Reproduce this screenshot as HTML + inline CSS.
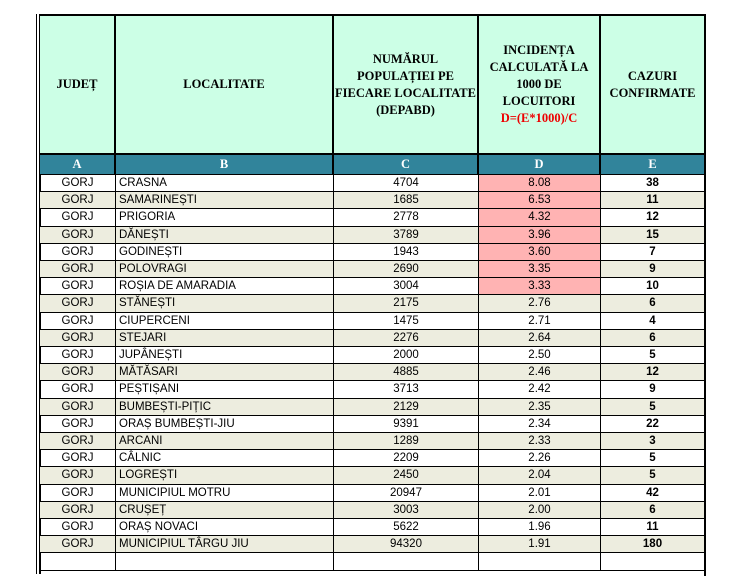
<!DOCTYPE html>
<html><head><meta charset="utf-8"><style>
body{margin:0;width:739px;height:558px;background:#fff;position:relative;overflow:hidden;font-family:"Liberation Sans",sans-serif}
#t{position:absolute;left:40px;top:14px;width:664px;height:560px;border-top:2px solid #000;border-right:2px solid #000;}
#outer{position:absolute;left:36px;top:14px;width:1px;height:560px;background:#000}
#outer2{position:absolute;left:39px;top:14px;width:2px;height:560px;background:#000}
.r{position:absolute;left:0;width:664px;display:flex;box-sizing:border-box;border-bottom:1.5px solid #000}
.c{box-sizing:border-box;border-right:1.5px solid #000;height:100%;display:flex;align-items:center;justify-content:center;font-size:11.5px;color:#000}
.c:last-child{border-right:none}
.w0{width:76px}.w1{width:218px;justify-content:flex-start;padding-left:3px}.w2{width:145px}.w3{width:122px}.w4{width:103px;font-weight:bold}
.h .c{background:#ccffe6;font-family:"Liberation Serif",serif;font-weight:bold;font-size:12.5px;text-align:center;line-height:17px;border-right:2px solid #000;justify-content:center;padding:0}
.h .c:last-child{border-right:none}
.b .c{background:#31849b;color:#fff;font-family:"Liberation Serif",serif;font-weight:bold;font-size:12.5px;justify-content:center;padding:0;border-right:2px solid #000}
.b .c:last-child{border-right:none}
.e{background:#ededdf}
.p{background:#ffb3b3}
</style></head><body>
<div id="outer"></div><div id="outer2"></div>
<div id="t">
<div class="r h" style="top:0;height:139px;border-bottom:2px solid #000">
<div class="c w0"><div>JUDEȚ</div></div><div class="c w1"><div>LOCALITATE</div></div><div class="c w2"><div>NUMĂRUL<br>POPULAȚIEI PE<br>FIECARE LOCALITATE<br>(DEPABD)</div></div><div class="c w3"><div>INCIDENȚA<br>CALCULATĂ LA<br>1000 DE<br>LOCUITORI<br><span style="color:#e00">D=(E*1000)/C</span></div></div><div class="c w4"><div>CAZURI<br>CONFIRMATE</div></div>
</div>
<div class="r b" style="top:139px;height:20px;border-bottom:1.5px solid #000">
<div class="c w0">A</div><div class="c w1">B</div><div class="c w2">C</div><div class="c w3">D</div><div class="c w4">E</div>
</div>
<div id="rows"></div>
</div>
<script>
var d=[["CRASNA",4704,"8.08",38],["SAMARINEȘTI",1685,"6.53",11],["PRIGORIA",2778,"4.32",12],["DĂNEȘTI",3789,"3.96",15],["GODINEȘTI",1943,"3.60",7],["POLOVRAGI",2690,"3.35",9],["ROȘIA DE AMARADIA",3004,"3.33",10],["STĂNEȘTI",2175,"2.76",6],["CIUPERCENI",1475,"2.71",4],["STEJARI",2276,"2.64",6],["JUPÂNEȘTI",2000,"2.50",5],["MĂTĂSARI",4885,"2.46",12],["PEȘTIȘANI",3713,"2.42",9],["BUMBEȘTI-PIȚIC",2129,"2.35",5],["ORAȘ BUMBEȘTI-JIU",9391,"2.34",22],["ARCANI",1289,"2.33",3],["CÂLNIC",2209,"2.26",5],["LOGREȘTI",2450,"2.04",5],["MUNICIPIUL MOTRU",20947,"2.01",42],["CRUȘEȚ",3003,"2.00",6],["ORAȘ NOVACI",5622,"1.96",11],["MUNICIPIUL TÂRGU JIU",94320,"1.91",180],["","","",""]];
var h="";
for(var i=0;i<d.length;i++){var x=d[i];var ty=159+i*17.2;var bg=i%2?"e":"";
h+='<div class="r '+bg+'" style="top:'+ty+'px;height:17.2px"><div class="c w0">'+(x[0]?"GORJ":"")+'</div><div class="c w1">'+x[0]+'</div><div class="c w2">'+x[1]+'</div><div class="c w3'+(i<7?" p":"")+'">'+x[2]+'</div><div class="c w4">'+x[3]+'</div></div>';}
document.getElementById("rows").innerHTML=h;
</script>
</body></html>
